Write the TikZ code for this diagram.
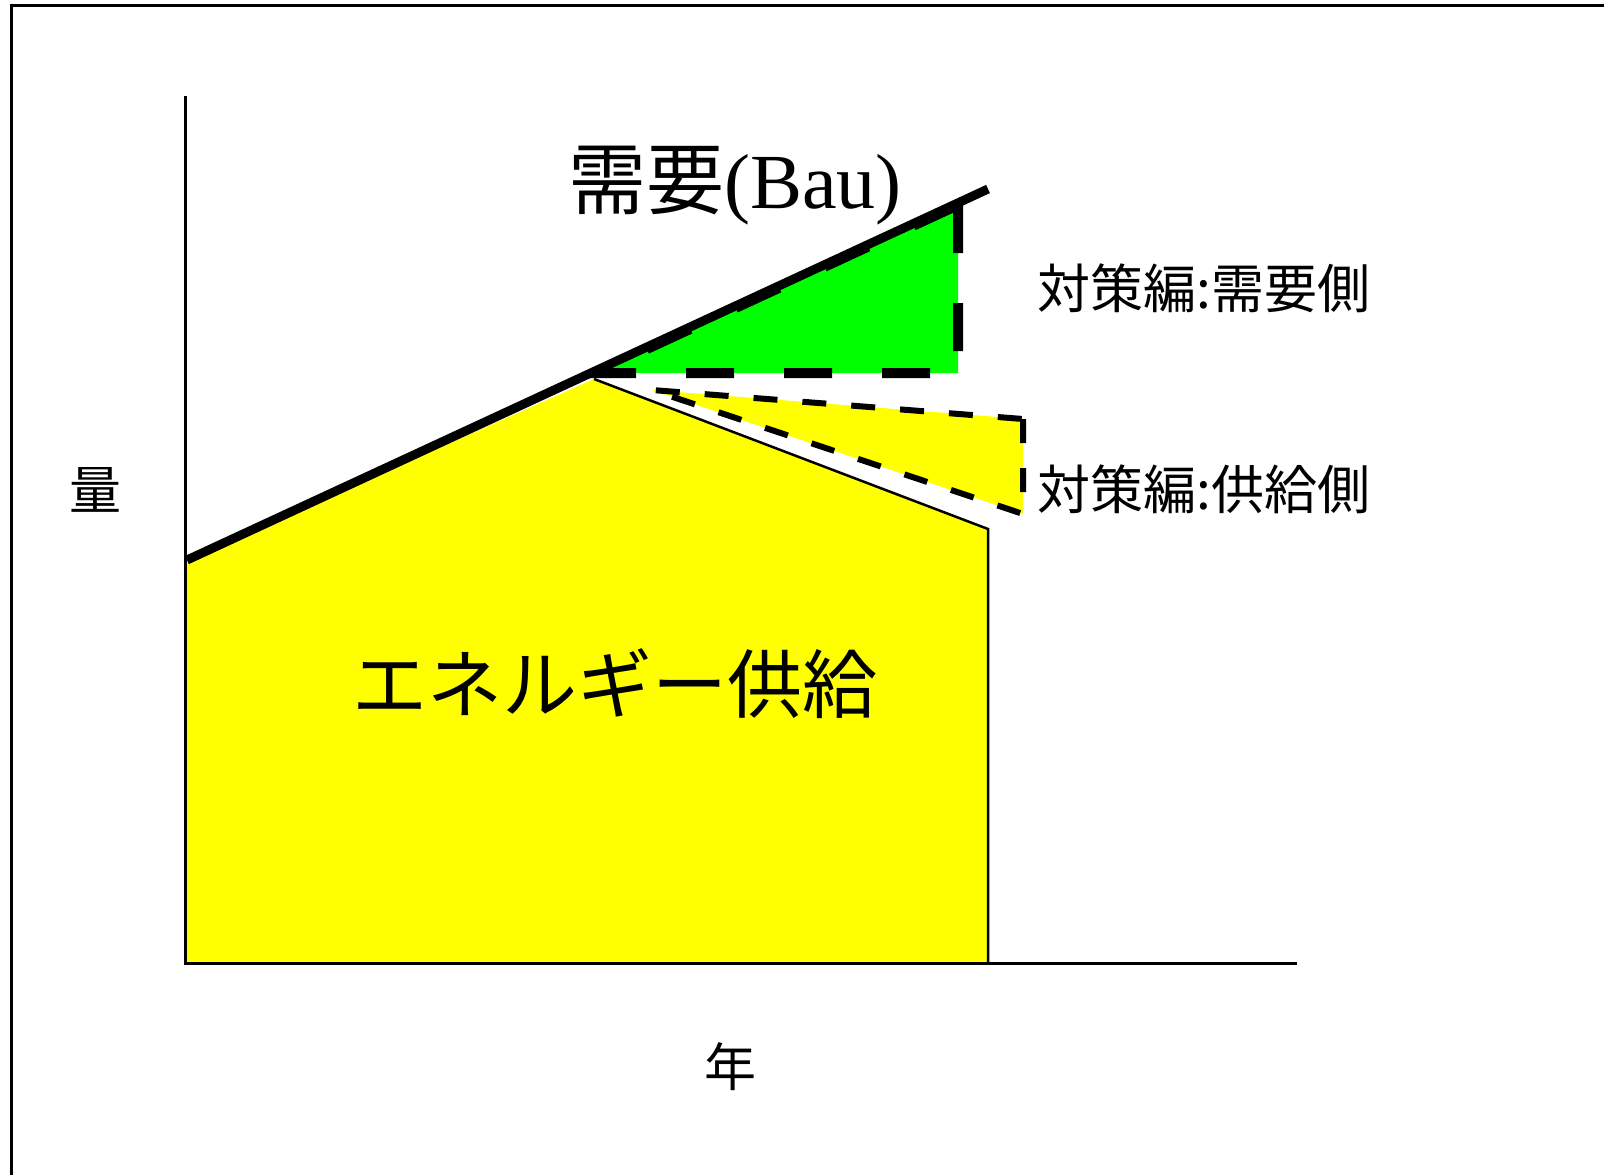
\documentclass[tikz,border=0pt]{standalone}
\usepackage{fontspec}
\setmainfont{Liberation Serif}
\newfontfamily\jp{Noto Sans CJK JP}
\definecolor{pureyellow}{RGB}{255,255,0}
\definecolor{puregreen}{RGB}{0,255,0}
\begin{document}
\begin{tikzpicture}[x=1pt,y=-1pt,
  lbl/.style={inner sep=0pt,anchor=center,text=black},
  axisline/.style={line width=3pt,black},
  greendash/.style={line width=10pt,dash pattern=on 48pt off 50pt},
  supplydash/.style={line width=6pt,dash pattern=on 24pt off 25pt},
  demandline/.style={line width=9pt,black}]
\useasboundingbox (0,0) rectangle (1604,1175);
% frame
\coordinate (fbl) at (11,1180);
\coordinate (ftl) at (11,5);
\coordinate (ftr) at (1610,5);
\draw[line width=3pt] (fbl) -- (ftl) -- (ftr);
% key points
\coordinate (dstart) at (187,560);
\coordinate (dend) at (988,189);
\coordinate (ytop) at (185,96);
\coordinate (orig) at (185,963);
\coordinate (xend) at (1297,963);
\coordinate (yl) at (185,561);
\coordinate (peak) at (594,379);
\coordinate (sr) at (988,529);
\coordinate (sb) at (988,963);
\coordinate (gtop) at (958,205);
\coordinate (gbot) at (958,373);
\coordinate (gleft) at (595,373);
\coordinate (stl) at (652,390);
\coordinate (str) at (1023,419);
\coordinate (sbr) at (1023,514);
% supply area
\fill[pureyellow] (yl) -- (peak) -- (sr) -- (sb) -- (orig) -- cycle;
\draw[line width=2.5pt] (peak) -- (sr) -- (sb);
% green (demand measures)
\fill[puregreen] (gtop) -- (gbot) -- (gleft) -- cycle;
% yellow (supply measures)
\fill[pureyellow] (str) -- (sbr) -- (stl) -- cycle;
% demand line
\draw[demandline] (dstart) -- (dend);
% dashed borders
\draw[greendash] (gtop) -- (gbot) -- (gleft) -- cycle;
\draw[supplydash] (str) -- (sbr) -- (stl) -- cycle;
% axes
\draw[axisline] (ytop) -- (orig) -- (xend);
% labels
\node[lbl] (bau) at (735,186) {\fontsize{78}{82}\selectfont{\jp 需要}(Bau)};
\node[lbl] (dside) at (1204,288) {\jp\fontsize{53}{60}\selectfont 対策編:需要側};
\node[lbl] (sside) at (1204,489) {\jp\fontsize{53}{60}\selectfont 対策編:供給側};
\node[lbl] (energy) at (615,684) {\jp\fontsize{75}{80}\selectfont エネルギー供給};
\node[lbl] (ryo) at (95,490) {\jp\fontsize{52}{60}\selectfont 量};
\node[lbl] (nen) at (730,1067) {\jp\fontsize{52}{60}\selectfont 年};
\end{tikzpicture}
\end{document}
